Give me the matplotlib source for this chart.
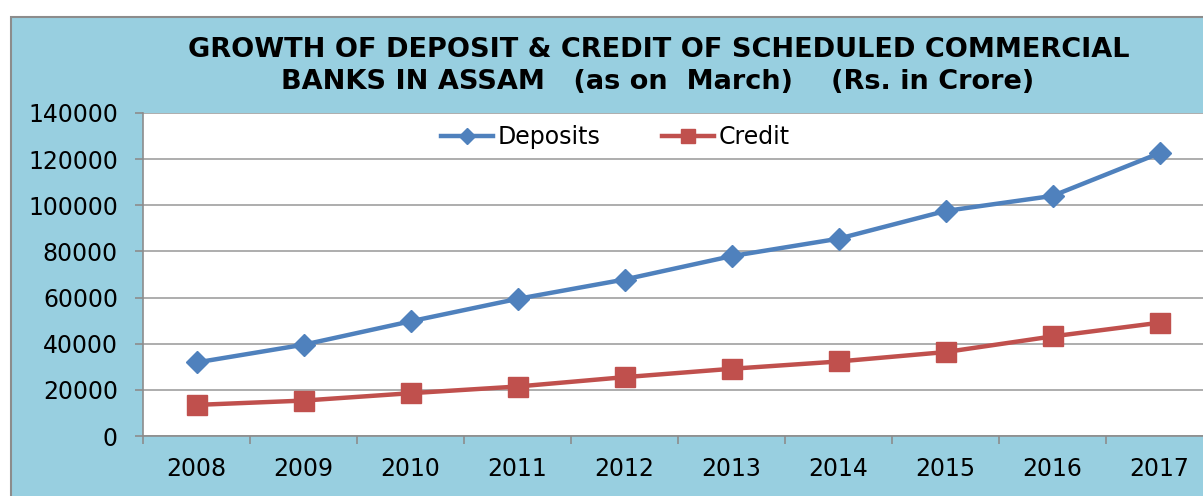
import numpy as np
import matplotlib.pyplot as plt
from matplotlib.patches import Rectangle

years = ['2008', '2009', '2010', '2011', '2012', '2013', '2014', '2015', '2016', '2017']
deposits = [31870, 39560, 49700, 59430, 67830, 77960, 85520, 97540, 104060, 122600]
credit = [13480, 15350, 18550, 21450, 25500, 29130, 32300, 36380, 43170, 49100]
yticks = [0, 20000, 40000, 60000, 80000, 100000, 120000, 140000]

W, H = 1203, 496
fig = plt.figure(figsize=(W / 100, H / 100), dpi=100, facecolor='white')

# chart area (blue box, runs off the right and bottom edges)
fig.patches.append(Rectangle((11 / W, -0.1), 1.2, (H - 17) / H + 0.1,
                             transform=fig.transFigure, facecolor='#98CFE0',
                             edgecolor='#8C8C8C', linewidth=1.5, zorder=-1))

# plot area runs slightly past the right edge too
ax = fig.add_axes([143 / W, 60 / H, 1070 / W, 323 / H])
ax.set_zorder(1)
ax.set_facecolor('white')

x = np.arange(len(years))
ax.plot(x, deposits, color='#4F81BD', lw=3.2, marker='D', ms=11,
        label='Deposits', zorder=3)
ax.plot(x, credit, color='#C0504D', lw=3.2, marker='s', ms=14,
        label='Credit', zorder=3)

ax.set_xlim(-0.5, len(years) - 0.5)
ax.set_ylim(0, 140000)
ax.set_yticks(yticks)
ax.set_yticklabels([str(v) for v in yticks])
ax.set_xticks(np.arange(-0.5, len(years), 1))
ax.set_xticklabels([])
ax.set_xticks(x, minor=True)
ax.set_xticklabels(years, minor=True)

ax.grid(axis='y', color='#A0A0A0', lw=1.2)
ax.set_axisbelow(True)
for s in ['top', 'right']:
    ax.spines[s].set_visible(False)
for s in ['left', 'bottom']:
    ax.spines[s].set_color('#8C8C8C')
    ax.spines[s].set_linewidth(1.2)

ax.tick_params(axis='y', length=6, width=1.2, color='#8C8C8C', pad=12, labelsize=17)
ax.tick_params(axis='x', which='major', length=6, width=1.2, color='#8C8C8C')
ax.tick_params(axis='x', which='minor', length=0, pad=15, labelsize=17)

fig.text(659 / W, 1 - 50 / H, 'GROWTH OF DEPOSIT & CREDIT OF SCHEDULED COMMERCIAL',
         ha='center', va='center', fontsize=19.5, fontweight='bold')
fig.text(658 / W, 1 - 82 / H, 'BANKS IN ASSAM   (as on  March)    (Rs. in Crore)',
         ha='center', va='center', fontsize=19.5, fontweight='bold')

leg = ax.legend(loc='center', bbox_to_anchor=(615 / W, 1 - 137 / H),
                bbox_transform=fig.transFigure, ncol=2, frameon=False,
                fontsize=17, handlelength=2.2, handletextpad=0.2,
                columnspacing=2.6, markerscale=0.7)

fig.savefig('out.png', dpi=100)
